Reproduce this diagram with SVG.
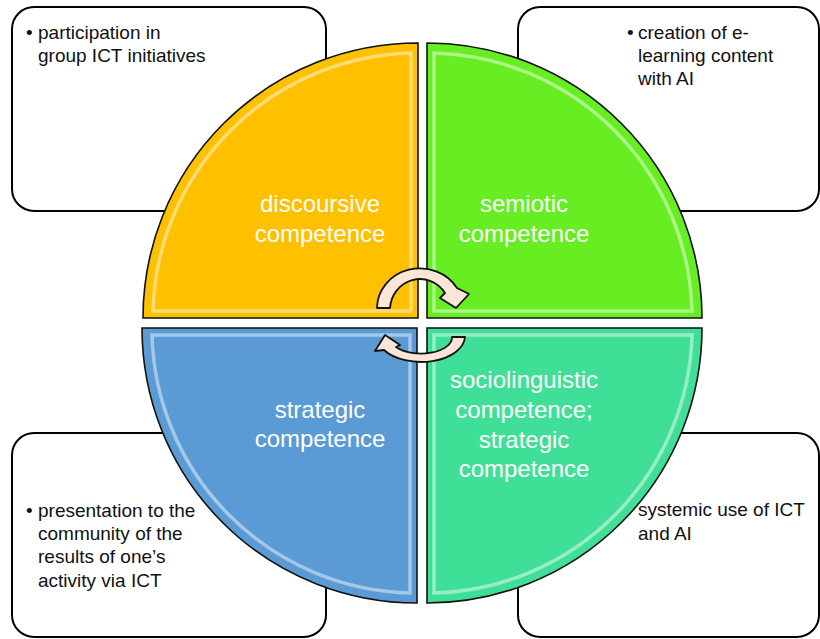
<svg xmlns="http://www.w3.org/2000/svg" width="820" height="639" viewBox="0 0 820 639">
<style>
.box{fill:#fff;stroke:#000;stroke-width:2}
.bt{font-family:"Liberation Sans",Arial,sans-serif;font-size:19px;fill:#111}
.q{stroke:#111;stroke-width:1.6}
.hl{fill:none;stroke:#fff;stroke-opacity:0.45;stroke-width:3.5}
.ql{font-family:"Liberation Sans",Arial,sans-serif;font-size:24px;fill:#fff;text-anchor:middle}
.arr{fill:#FBE5D6;stroke:#111;stroke-width:1.8;stroke-linejoin:round}
</style>
<rect width="820" height="639" fill="#fff"/>
<g id="box-tl">
<rect class="box" x="12" y="7" width="314" height="204" rx="22"/>
<text class="bt" x="26" y="39">•</text>
<text class="bt" x="38" y="39">participation in</text>
<text class="bt" x="38" y="62">group ICT initiatives</text>
</g>
<g id="box-tr">
<rect class="box" x="518" y="7" width="301" height="204" rx="22"/>
<text class="bt" x="627" y="39">•</text>
<text class="bt" x="638" y="39">creation of e-</text>
<text class="bt" x="638" y="62">learning content</text>
<text class="bt" x="638" y="85">with AI</text>
</g>
<g id="box-bl">
<rect class="box" x="12" y="433" width="314" height="204" rx="22"/>
<text class="bt" x="26" y="517">•</text>
<text class="bt" x="38" y="517">presentation to the</text>
<text class="bt" x="38" y="540">community of the</text>
<text class="bt" x="38" y="563">results of one’s</text>
<text class="bt" x="38" y="587">activity via ICT</text>
</g>
<g id="box-br">
<rect class="box" x="518" y="433" width="301" height="204" rx="22"/>
<text class="bt" x="638" y="516">systemic use of ICT</text>
<text class="bt" x="638" y="540">and AI</text>
</g>
<g id="q-discoursive">
<path class="q" fill="#FFC000" d="M418 318 L143 318 A275 275 0 0 1 418 43 Z"/>
<path class="hl" d="M411 311 L153 311 A265 265 0 0 1 411 53 Z"/>
<text class="ql" x="320" y="212">discoursive</text>
<text class="ql" x="320" y="242">competence</text>
</g>
<g id="q-semiotic">
<path class="q" fill="#66EE22" d="M427 318 L427 43 A275 275 0 0 1 702 318 Z"/>
<path class="hl" d="M434 311 L434 53 A265 265 0 0 1 692 311 Z"/>
<text class="ql" x="524" y="212">semiotic</text>
<text class="ql" x="524" y="242">competence</text>
</g>
<g id="q-strategic">
<path class="q" fill="#5B9BD5" d="M417 328 L417 603 A275 275 0 0 1 142 328 Z"/>
<path class="hl" d="M410 335 L410 593 A265 265 0 0 1 152 335 Z"/>
<text class="ql" x="320" y="418">strategic</text>
<text class="ql" x="320" y="447">competence</text>
</g>
<g id="q-sociolinguistic">
<path class="q" fill="#40DF98" d="M427 328 L702 328 A275 275 0 0 1 427 603 Z"/>
<path class="hl" d="M434 335 L692 335 A265 265 0 0 1 434 593 Z"/>
<text class="ql" x="524" y="388">sociolinguistic</text>
<text class="ql" x="524" y="418">competence;</text>
<text class="ql" x="524" y="448">strategic</text>
<text class="ql" x="524" y="477">competence</text>
</g>
<g id="connectors">
<path class="arr" d="M377 308 A43 40 0 0 1 457 288 L469 294 L456 308 L440 298 L445 293 A30 31 0 0 0 390 308 Z"/>
<path class="arr" d="M465 337 A44 26 0 0 1 384 350 L375 351 L385 335 L400 345 L396 347 A31 16 0 0 0 452 337 Z"/>
</g>
</svg>
